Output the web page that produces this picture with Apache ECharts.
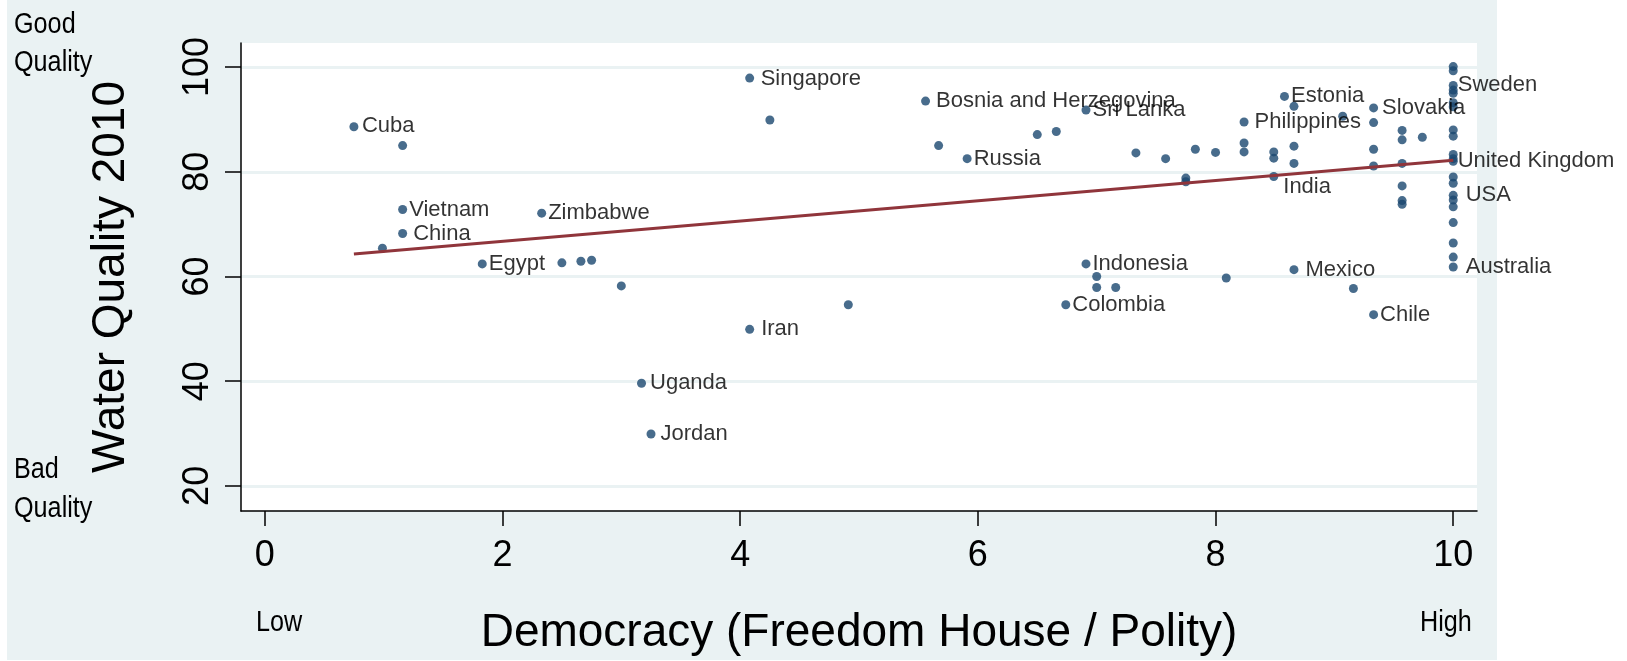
<!DOCTYPE html>
<html>
<head>
<meta charset="utf-8">
<script src="https://cdn.jsdelivr.net/npm/echarts@6/dist/echarts.min.js"></script>
<style>
  body { margin: 0; background: #fff; }
  #bg { position: absolute; left: 7px; top: 0; width: 1490px; height: 660px; background: #eaf2f3; }
  #chart { position: absolute; left: 0; top: 0; width: 1627px; height: 661px; }
</style>
</head>
<body>
<div id="bg"></div>
<div id="chart"></div>
<script>
  // labelled countries
  var labelNames = ['Cuba', 'Vietnam', 'China', 'Egypt', 'Zimbabwe', 'Uganda', 'Jordan', 'Singapore', 'Iran',
    'Bosnia and Herzegovina', 'Russia', 'Sri Lanka', 'Indonesia', 'Colombia', 'Philippines', 'India',
    'Estonia', 'Mexico', 'Slovakia', 'Chile', 'Sweden', 'United Kingdom', 'USA', 'Australia'];
  var labelDemocracy = [0.75, 1.16, 1.16, 1.83, 2.33, 3.17, 3.25, 4.08, 4.08,
    5.56, 5.91, 6.91, 6.91, 6.74, 8.24, 8.49,
    8.58, 8.66, 9.33, 9.33, 10, 10, 10, 10];
  var labelWater = [88.6, 72.8, 68.2, 62.4, 72.1, 39.6, 29.9, 97.9, 49.9,
    93.5, 82.5, 91.8, 62.4, 54.6, 89.5, 79.1,
    94.4, 61.3, 92.2, 52.7, 96.5, 82.0, 75.5, 61.8];

  // unlabelled countries
  var otherDemocracy = [1.16, 0.99, 2.5, 2.66, 2.75, 3.0, 4.25, 4.91, 5.67, 6.5, 6.66,
    7.0, 7.0, 7.16, 7.33, 7.58, 7.75, 7.75, 7.83, 8.0, 8.09, 8.24, 8.24, 8.49, 8.49,
    8.66, 8.66, 8.66, 9.07, 9.16, 9.33, 9.33, 9.33, 9.57, 9.57, 9.57, 9.57, 9.57, 9.57, 9.74,
    10, 10, 10, 10, 10, 10, 10, 10, 10, 10, 10, 10, 10, 10, 10, 10, 10];
  var otherWater = [85.0, 65.4, 62.6, 62.9, 63.1, 58.2, 89.9, 54.6, 85.0, 87.1, 87.7,
    60.0, 57.9, 57.9, 83.6, 82.5, 78.8, 78.1, 84.3, 83.7, 59.7, 85.5, 83.8, 83.8, 82.6,
    92.5, 84.9, 81.6, 90.6, 57.7, 89.4, 84.3, 81.1, 87.9, 86.1, 81.6, 77.3, 74.5, 73.8, 86.6,
    100.1, 99.3, 95.6, 95.0, 93.2, 92.4, 88.0, 86.8, 83.3, 82.5, 79.0, 77.8, 74.6, 73.3, 70.3, 66.4, 63.7];

  // fitted line end points
  var fitDemocracy = [0.75, 10];
  var fitWater = [64.3, 82.2];

  var xTicks = [0, 2, 4, 6, 8, 10];
  var yTicks = [20, 40, 60, 80, 100];

  var sans = "'Liberation Sans', Arial, sans-serif";

  // label nudges (extra gap / vertical shift)
  var labelTweaks = {
    'Cuba': [1.5, -1], 'China': [4, 0], 'Singapore': [4.5, 1], 'Bosnia and Herzegovina': [4, 0],
    'Iran': [5, 0], 'Uganda': [2, 0], 'Jordan': [3, 0], 'Philippines': [4, 0], 'Mexico': [5, 0],
    'Slovakia': [2, 0], 'Sweden': [-2, 0], 'United Kingdom': [-2, 0], 'USA': [6, 0],
    'Australia': [6, 0], 'India': [3, 10]
  };

  var nOther = otherDemocracy.length;
  var scatterData = [];
  for (var i = 0; i < nOther; i++) {
    scatterData.push({ value: [otherDemocracy[i], otherWater[i]] });
  }
  for (var j = 0; j < labelNames.length; j++) {
    scatterData.push({
      name: labelNames[j],
      value: [labelDemocracy[j], labelWater[j]],
      label: { show: true }
    });
  }

  var fitData = [];
  for (var k = 0; k < fitDemocracy.length; k++) {
    fitData.push([fitDemocracy[k], fitWater[k]]);
  }

  // condensed look for the side notes
  function note(txt, left, top) {
    return {
      type: 'text', left: left, top: top, scaleX: 0.84,
      style: { text: txt, font: '30px ' + sans, fill: '#000' }
    };
  }

  var myChart = echarts.init(document.getElementById('chart'), null, { renderer: 'canvas' });
  var option = {
    backgroundColor: 'transparent',
    animation: false,
    grid: {
      left: 241, right: 150, top: 43, bottom: 149.5,
      show: true,
      backgroundColor: '#fff',
      borderWidth: 0
    },
    xAxis: {
      type: 'value',
      min: -0.2,
      max: 10.2,
      name: 'Democracy (Freedom House / Polity)',
      nameLocation: 'middle',
      nameGap: 99,
      nameTextStyle: { fontSize: 46, fontFamily: sans, color: '#000' },
      axisLine: { show: true, onZero: false, lineStyle: { color: '#000', width: 1.5 } },
      axisTick: { show: true, length: 15, customValues: xTicks, lineStyle: { color: '#000', width: 1.5 } },
      axisLabel: { customValues: xTicks, fontSize: 36, fontFamily: sans, color: '#000', margin: 27 },
      splitLine: { show: false }
    },
    yAxis: {
      type: 'value',
      min: 15.2,
      max: 104.6,
      name: 'Water Quality 2010',
      nameLocation: 'middle',
      nameGap: 107,
      nameTextStyle: { fontSize: 46, fontFamily: sans, color: '#000' },
      axisLine: { show: true, onZero: false, lineStyle: { color: '#000', width: 1.5 } },
      axisTick: { show: true, length: 16, customValues: yTicks, lineStyle: { color: '#000', width: 1.5 } },
      axisLabel: { customValues: yTicks, rotate: 90, fontSize: 36, fontFamily: sans, color: '#000', margin: 25 },
      splitLine: { show: true, lineStyle: { color: '#eaf2f3', width: 3 } }
    },
    series: [
      {
        type: 'scatter',
        symbol: 'circle',
        symbolSize: 9,
        itemStyle: { color: '#1a476f' },
        label: {
          show: false,
          position: 'right',
          distance: 2,
          formatter: '{b}',
          fontSize: 22,
          fontFamily: sans,
          color: '#000'
        },
        labelLayout: function (p) {
          var idx = p.dataIndex - nOther;
          var tw = (idx >= 0 && labelTweaks[labelNames[idx]]) || [0, 0];
          return { dx: tw[0], dy: tw[1], hideOverlap: false };
        },
        data: scatterData,
        z: 2
      },
      {
        type: 'line',
        data: fitData,
        symbol: 'none',
        lineStyle: { color: '#90353b', width: 3 },
        z: 3
      }
    ],
    graphic: [
      note('Good', 14, 10),
      note('Quality', 14, 48),
      note('Bad', 14, 455),
      note('Quality', 14, 494),
      note('Low', 256, 608),
      note('High', 1420, 608)
    ]
  };
  myChart.setOption(option);
</script>
</body>
</html>
